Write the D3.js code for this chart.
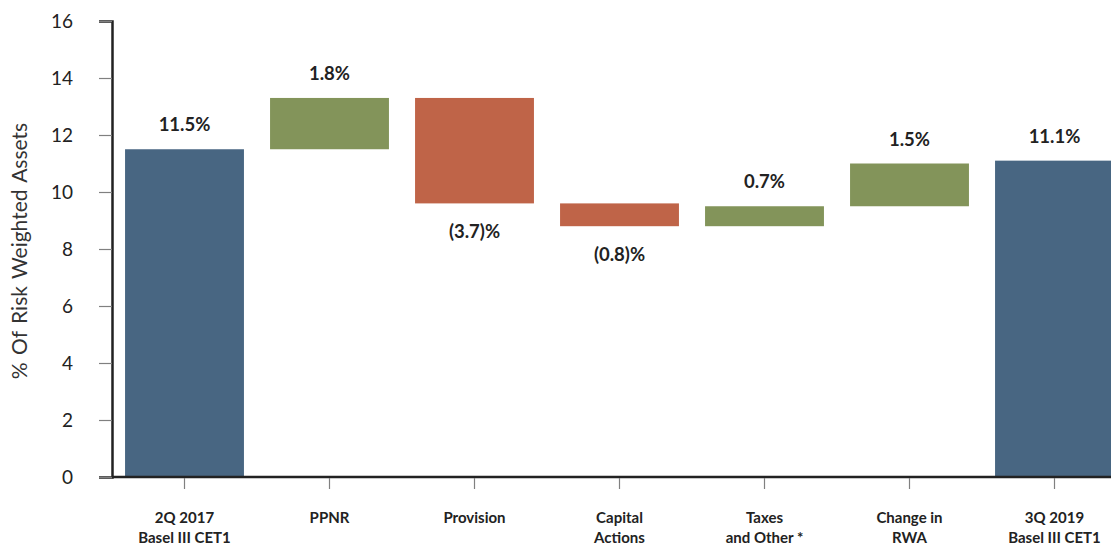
<!DOCTYPE html>
<html>
<head>
<meta charset="utf-8">
<script src="https://cdn.jsdelivr.net/npm/d3@7"></script>
<style>
  body { margin: 0; background: #fff; }
  text { font-family: Lato, "Open Sans", sans-serif; }
</style>
</head>
<body>
<div id="my_dataviz"></div>
<script>
var width = 1111,
    height = 548

// data
var categories = [["2Q 2017", "Basel III CET1"], ["PPNR"], ["Provision"], ["Capital", "Actions"],
                  ["Taxes", "and Other *"], ["Change in", "RWA"], ["3Q 2019", "Basel III CET1"]]
var kinds = ["total", "delta", "delta", "delta", "delta", "delta", "total"]
var values = [11.5, 1.8, -3.7, -0.8, 0.7, 1.5, 11.1]
var labels = ["11.5%", "1.8%", "(3.7)%", "(0.8)%", "0.7%", "1.5%", "11.1%"]
var yTicks = [0, 2, 4, 6, 8, 10, 12, 14, 16]

var colors = { total: "#486682", up: "#83945a", down: "#bf6448" }

// build waterfall pieces
var running = 0
var bars = values.map(function(v, i) {
  var b
  if (kinds[i] == "total") {
    b = { y0: 0, y1: v }
    running = v
  } else {
    b = { y0: running, y1: running + v }
    running = running + v
  }
  b.i = i
  b.kind = kinds[i] == "total" ? "total" : (v >= 0 ? "up" : "down")
  b.label = labels[i]
  return b
})

var svg = d3.select("#my_dataviz")
  .append("svg")
    .attr("width", width)
    .attr("height", height)

var x = d3.scaleBand()
  .domain(d3.range(categories.length))
  .range([112, 1127])
  .paddingInner(0.18)
  .paddingOuter(0.09)

var y = d3.scaleLinear()
  .domain([0, 16])
  .range([477, 21])

// y axis
var yAxis = svg.append("g")
  .attr("transform", "translate(112,0)")
  .call(d3.axisLeft(y).tickValues(yTicks).tickSize(13).tickPadding(26))
yAxis.select(".domain").attr("stroke", "#222").attr("stroke-width", 2.5)
yAxis.selectAll(".tick line").attr("stroke", "#808080").attr("stroke-width", 1.2)
yAxis.selectAll(".tick text")
  .attr("fill", "#222")
  .style("font-size", "19px")
  .style("font-family", "Lato, sans-serif")

// bars
svg.selectAll("allBars")
  .data(bars)
  .enter()
  .append("rect")
    .attr("x", function(d) { return x(d.i) })
    .attr("width", x.bandwidth())
    .attr("y", function(d) { return y(Math.max(d.y0, d.y1)) })
    .attr("height", function(d) { return Math.abs(y(d.y0) - y(d.y1)) })
    .attr("fill", function(d) { return colors[d.kind] })

// x axis
svg.append("line")
  .attr("x1", 112).attr("x2", width)
  .attr("y1", y(0)).attr("y2", y(0))
  .attr("stroke", "#222")
  .attr("stroke-width", 2.5)

svg.selectAll("allXTicks")
  .data(d3.range(categories.length))
  .enter()
  .append("line")
    .attr("x1", function(d) { return x(d) + x.bandwidth() / 2 })
    .attr("x2", function(d) { return x(d) + x.bandwidth() / 2 })
    .attr("y1", y(0) + 1)
    .attr("y2", y(0) + 12)
    .attr("stroke", "#808080")
    .attr("stroke-width", 1.2)

var catText = svg.selectAll("allCats")
  .data(categories)
  .enter()
  .append("text")
    .attr("text-anchor", "middle")
    .attr("fill", "#222")
    .style("font-size", "15px")
    .style("font-weight", "bold")

catText.selectAll("tspan")
  .data(function(d, i) { return d.map(function(s) { return { s: s, i: i } }) })
  .enter()
  .append("tspan")
    .attr("x", function(d) { return x(d.i) + x.bandwidth() / 2 })
    .attr("y", function(d, j) { return 523 + j * 20 })
    .text(function(d) { return d.s })

// value labels
svg.selectAll("allLabels")
  .data(bars)
  .enter()
  .append("text")
    .text(function(d) { return d.label })
    .attr("x", function(d) { return x(d.i) + x.bandwidth() / 2 })
    .attr("y", function(d) {
      if (d.kind == "down") return y(Math.min(d.y0, d.y1)) + 35
      return y(Math.max(d.y0, d.y1)) - 18
    })
    .attr("text-anchor", "middle")
    .attr("fill", "#222")
    .style("font-size", "18.5px")
    .style("font-weight", "bold")

// y title
svg.append("text")
  .attr("transform", "translate(27," + (y(8) + 2) + ") rotate(-90)")
  .attr("text-anchor", "middle")
  .attr("fill", "#333")
  .style("font-size", "21px")
  .style("word-spacing", "2px")
  .text("% Of Risk Weighted Assets")
</script>
</body>
</html>
